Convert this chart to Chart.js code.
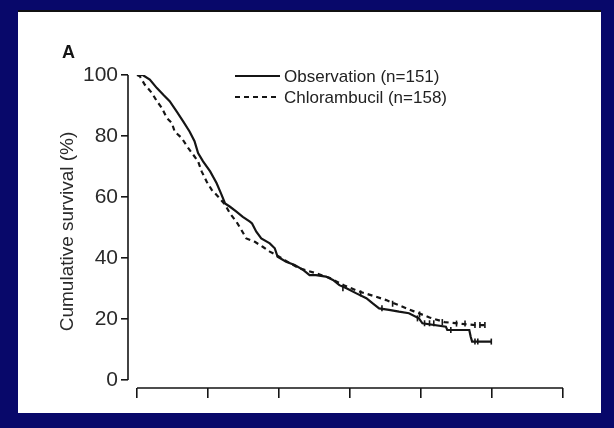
<!DOCTYPE html>
<html><head><meta charset="utf-8">
<script src="https://cdn.jsdelivr.net/npm/chart.js@4.4.1/dist/chart.umd.min.js"></script>
<style>
html,body{margin:0;padding:0;width:614px;height:428px;overflow:hidden;background:#08086a;}
#panel{position:absolute;left:18px;top:10px;width:583px;height:401px;background:#fff;border-top:2px solid #111;}
#wrap{position:absolute;left:0;top:0;width:614px;height:428px;}
canvas{display:block;}
</style></head><body>
<div id="panel"></div>
<div id="wrap"><canvas id="c" width="614" height="428"></canvas></div>
<script>
const panelLabel = 'A';
const yAxisTitle = 'Cumulative survival (%)';
const seriesNames = ['Observation (n=151)', 'Chlorambucil (n=158)'];
const yTicks = [0, 20, 40, 60, 80, 100];
const xTicks = [0, 1, 2, 3, 4, 5, 6];

const obsTime = [0, 0.08, 0.18, 0.28, 0.37, 0.46, 0.56, 0.65, 0.74, 0.81, 0.86, 0.93, 1.03, 1.12, 1.19, 1.24, 1.31, 1.40, 1.49, 1.59, 1.62, 1.68, 1.75, 1.87, 1.94, 1.98, 2.10, 2.22, 2.34, 2.43, 2.52, 2.66, 2.76, 2.85, 2.95, 3.09, 3.23, 3.32, 3.41, 3.55, 3.69, 3.83, 3.97, 4.02, 4.35, 4.37, 4.68, 4.70, 4.72, 4.99];
const obsSurv = [100, 100, 98.5, 95.7, 93.5, 91.4, 88, 84.8, 81.5, 78.3, 74.4, 71.7, 68.4, 64.6, 60.8, 57.9, 56.8, 55.2, 53.5, 51.9, 51.3, 48.6, 46.4, 44.8, 43.2, 40.4, 38.8, 37.7, 36.1, 34.4, 34.4, 33.9, 32.8, 31.1, 30.1, 28.4, 26.8, 25.1, 23.5, 23, 22.4, 21.9, 20.2, 18.6, 17.5, 16.4, 16.4, 14.2, 12.6, 12.6];

const chlTime = [0, 0.04, 0.11, 0.21, 0.28, 0.35, 0.42, 0.49, 0.53, 0.63, 0.72, 0.79, 0.86, 0.91, 0.98, 1.05, 1.14, 1.24, 1.31, 1.40, 1.47, 1.54, 1.66, 1.77, 1.87, 1.96, 2.10, 2.29, 2.52, 2.71, 2.92, 3.13, 3.34, 3.51, 3.69, 3.90, 4.12, 4.33, 4.54, 4.77, 4.93];
const chlSurv = [100, 99.6, 96.8, 94.1, 91.4, 89.2, 85.9, 84.3, 81.5, 79.3, 76.1, 73.9, 71.7, 68.4, 65.1, 62.4, 60.2, 57.5, 54.6, 51.9, 49.2, 46.4, 45.3, 43.7, 42.1, 41, 39, 36.6, 35, 33.5, 31, 29, 27.5, 26.2, 24.5, 22.5, 20.5, 19, 18.5, 18, 18];

const obsCensorTime = [2.9, 3.15, 3.45, 3.95, 4.05, 4.12, 4.18, 4.42, 4.76, 4.80, 4.99];
const obsCensorSurv = [30.1, 28.4, 23.5, 20.2, 18.6, 18.6, 18.6, 16.4, 12.6, 12.6, 12.6];
const chlCensorTime = [3.6, 3.98, 4.3, 4.5, 4.62, 4.76, 4.83, 4.9];
const chlCensorSurv = [25, 21.5, 19, 18.5, 18.5, 18, 18, 18];

const pts = (t, s) => t.map((v, i) => ({x: v, y: s[i]}));
const ink = '#151515';
const fam = '"Liberation Sans", Arial, sans-serif';

const axesPlugin = {
  id: 'axesPlugin',
  afterDraw(chart) {
    const ctx = chart.ctx, ca = chart.chartArea, xs = chart.scales.x, ys = chart.scales.y;
    ctx.save();
    ctx.strokeStyle = ink; ctx.lineWidth = 1.6;
    ctx.beginPath();
    ctx.moveTo(ca.left, ys.getPixelForValue(yTicks[0]));
    ctx.lineTo(ca.left, ys.getPixelForValue(yTicks[yTicks.length - 1]));
    ctx.moveTo(xs.getPixelForValue(xTicks[0]), ca.bottom);
    ctx.lineTo(xs.getPixelForValue(xTicks[xTicks.length - 1]), ca.bottom);
    ctx.stroke();
    ctx.fillStyle = ink;
    ctx.font = 'bold 18px ' + fam;
    ctx.textBaseline = 'alphabetic'; ctx.textAlign = 'left';
    ctx.fillText(panelLabel, 62, 58);
    ctx.font = '17px ' + fam;
    ctx.fillStyle = '#222';
    ctx.textBaseline = 'middle';
    const rows = [76, 97];
    [0, 1].forEach(i => {
      const ds = chart.data.datasets[i];
      ctx.save();
      ctx.lineWidth = 2.2;
      ctx.setLineDash(ds.borderDash || []);
      ctx.beginPath(); ctx.moveTo(235, rows[i]); ctx.lineTo(280, rows[i]); ctx.stroke();
      ctx.restore();
      ctx.fillText(ds.label, 284, rows[i] + 1);
    });
    ctx.restore();
  }
};

new Chart(document.getElementById('c'), {
  type: 'line',
  data: {
    datasets: [
      {label: seriesNames[0], data: pts(obsTime, obsSurv), borderColor: ink, borderWidth: 2.2, tension: 0, pointRadius: 0, fill: false},
      {label: seriesNames[1], data: pts(chlTime, chlSurv), borderColor: ink, borderWidth: 2.2, borderDash: [5, 4], tension: 0, pointRadius: 0, fill: false},
      {label: 'obs censored', data: pts(obsCensorTime, obsCensorSurv), showLine: false, pointStyle: 'line', rotation: 90, pointRadius: 3, borderColor: ink, borderWidth: 1.6},
      {label: 'chl censored', data: pts(chlCensorTime, chlCensorSurv), showLine: false, pointStyle: 'line', rotation: 90, pointRadius: 3, borderColor: ink, borderWidth: 1.6}
    ]
  },
  options: {
    responsive: false,
    animation: false,
    devicePixelRatio: 1,
    layout: {padding: {left: 0, top: 75, right: 51, bottom: 0}},
    plugins: {legend: {display: false}, tooltip: {enabled: false}},
    scales: {
      x: {
        type: 'linear', min: -0.127, max: 6,
        afterBuildTicks: s => { s.ticks = xTicks.map(v => ({value: v})); },
        afterFit: s => { s.height = 40; },
        border: {display: false},
        grid: {drawOnChartArea: false, drawTicks: true, tickLength: 10, color: ink, lineWidth: 1.6},
        ticks: {display: false}
      },
      y: {
        type: 'linear', min: -2.62, max: 100,
        afterBuildTicks: s => { s.ticks = yTicks.map(v => ({value: v})); },
        afterFit: s => { s.width = 128; },
        border: {display: false},
        grid: {drawOnChartArea: false, drawTicks: true, tickLength: 7, color: ink, lineWidth: 1.6},
        ticks: {color: '#2a2a2a', padding: 3, font: {family: fam, size: 21}},
        title: {display: true, text: yAxisTitle, color: '#2a2a2a', padding: {top: 56, bottom: 0}, font: {family: fam, size: 19}}
      }
    }
  },
  plugins: [axesPlugin]
});
</script>
</body></html>
